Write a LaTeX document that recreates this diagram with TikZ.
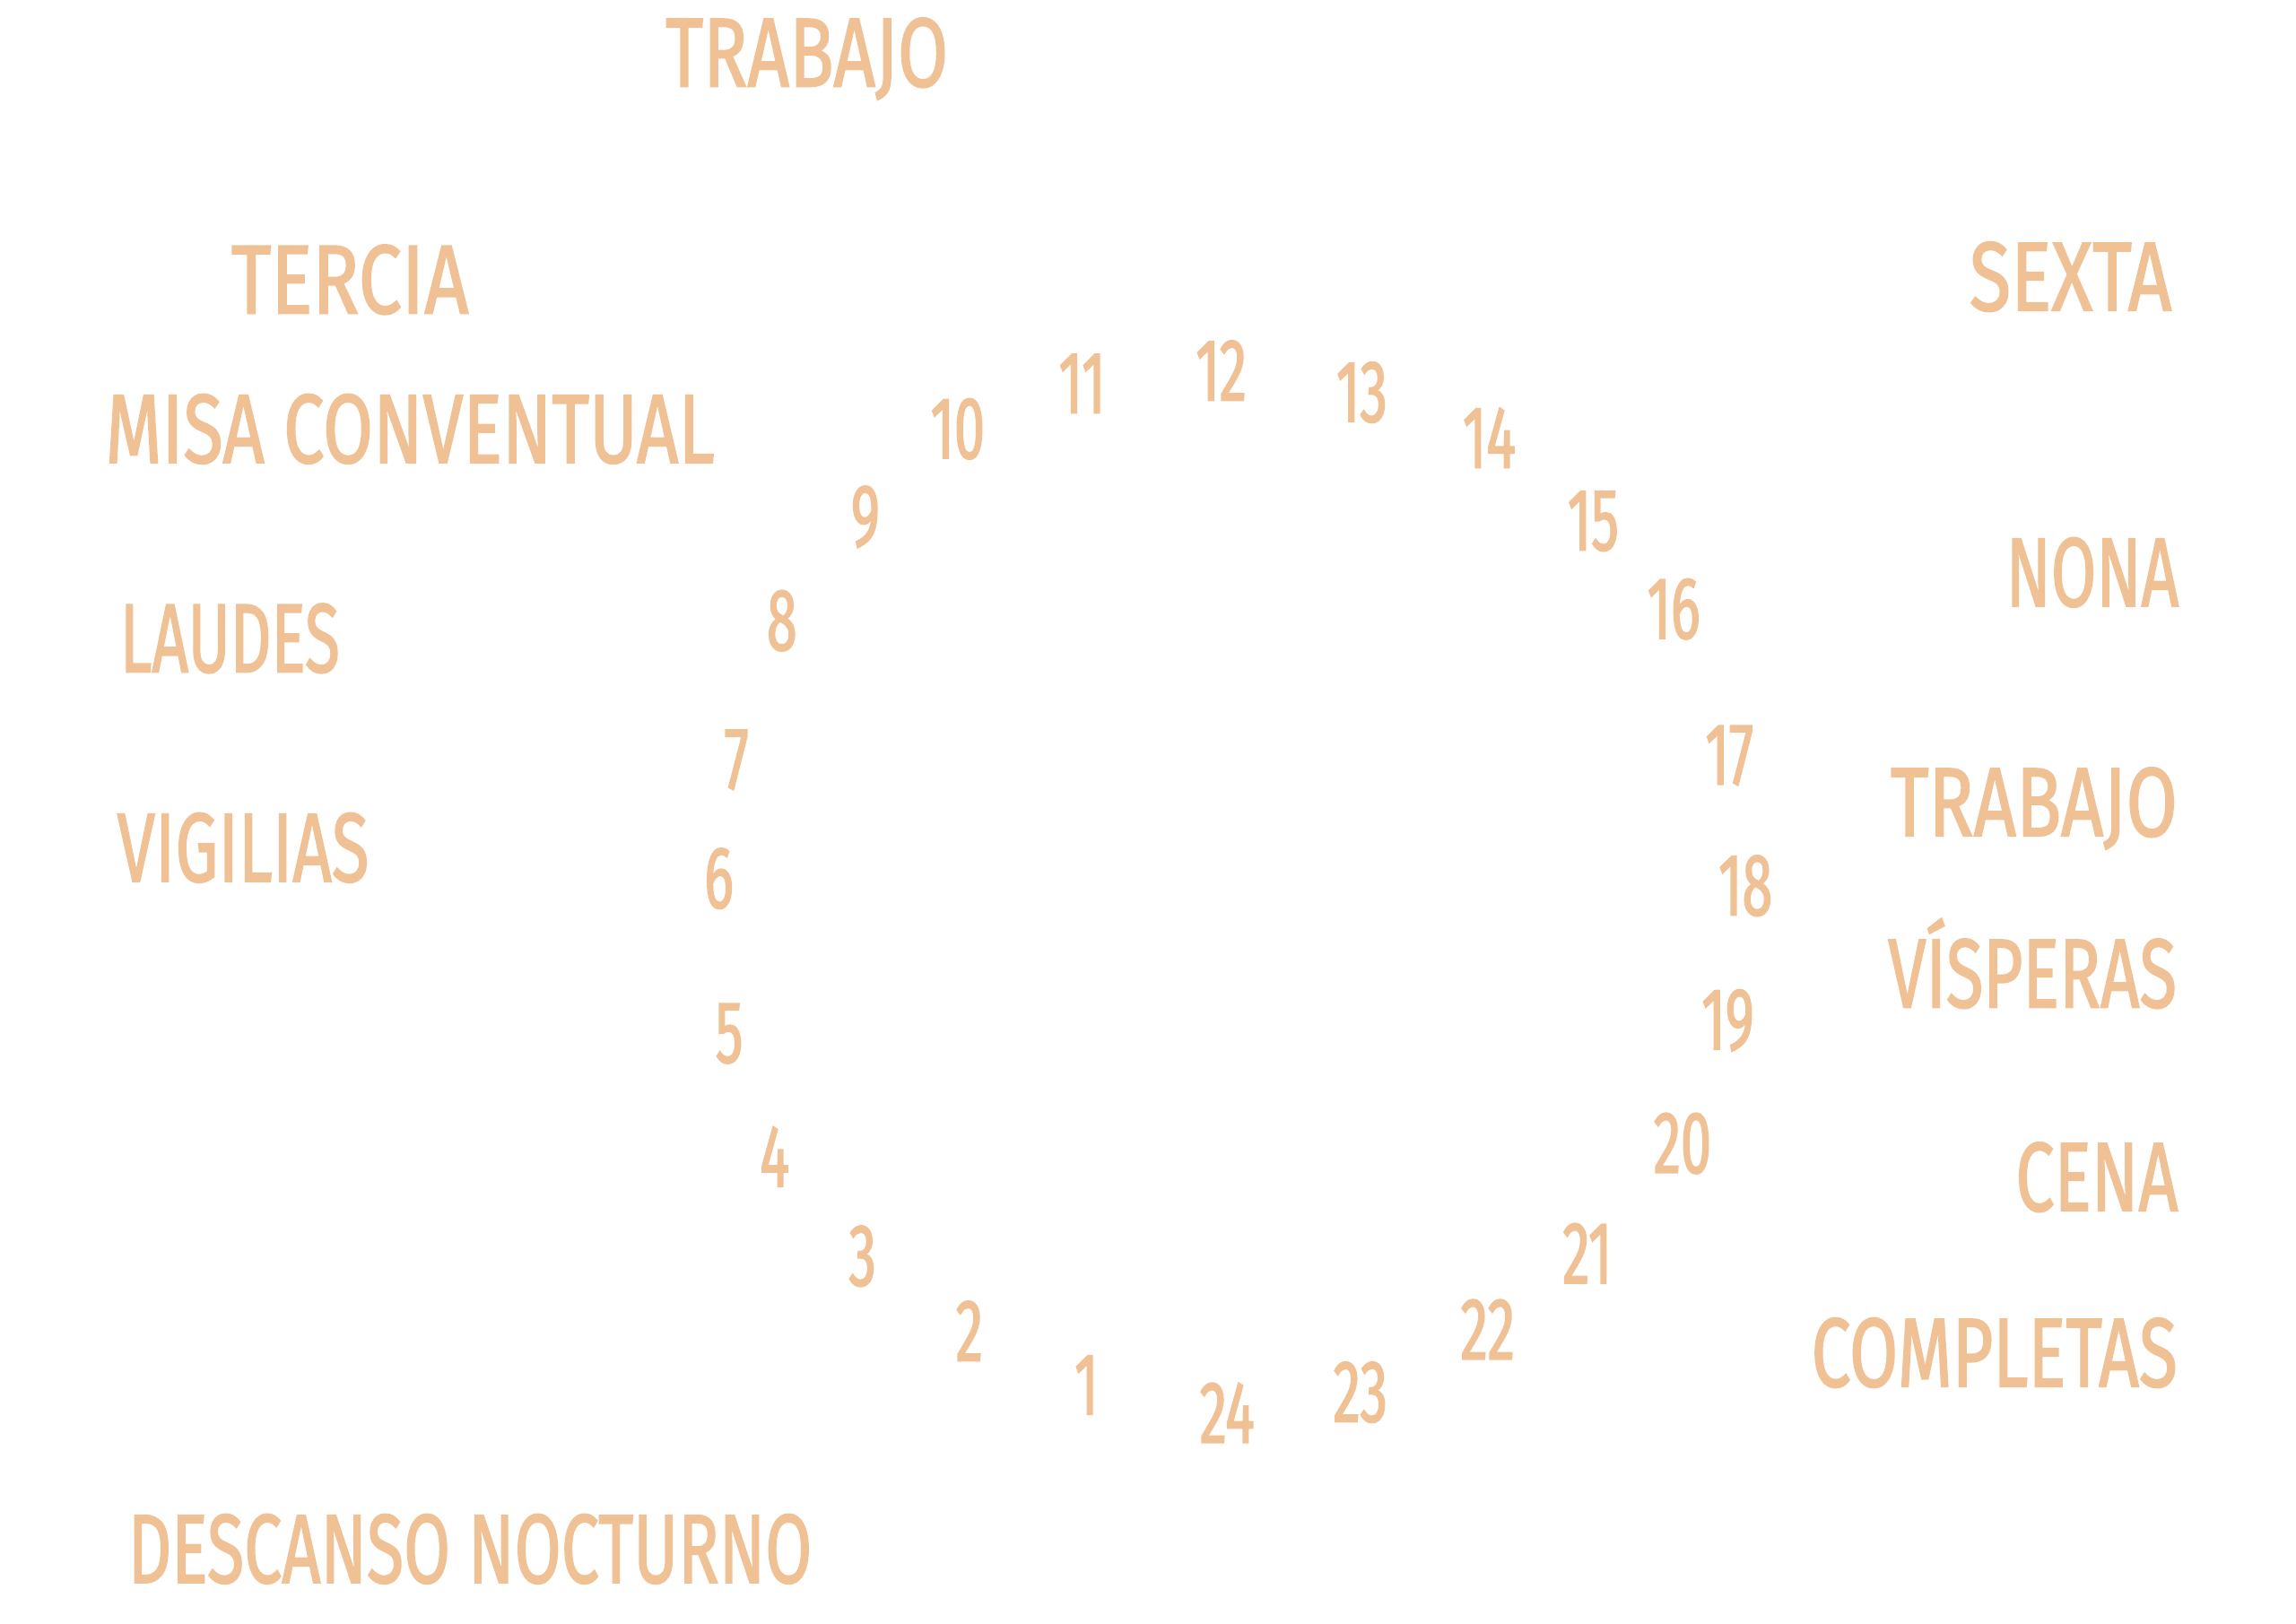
\documentclass[tikz,border=0pt]{standalone}
\usepackage{fontspec}
\usepackage{graphicx}
\newfontfamily\hand[FakeStretch=0.62,FakeBold=1.6]{Fira Sans}
\newfontfamily\handl[FakeBold=1.8]{Fira Sans}
\definecolor{handc}{RGB}{240,193,148}
\newlength\pxu
\setlength\pxu{0.016327cm}
% label: width, text (cap height fixed)
\newcommand\hlbl[2]{\resizebox{#1\pxu}{46\pxu}{\handl\smash{#2}\vphantom{T}}}
\tikzset{
  lbl/.style={inner sep=0pt, text=handc, anchor=center},
  num/.style={inner sep=0pt, text=handc, anchor=center, font=\hand\fontsize{28}{28}\selectfont}
}
\begin{document}
\begin{tikzpicture}[x=0.016327cm,y=-0.016327cm]
\useasboundingbox (0,0) rectangle (1568,1109);
% labels left / top
\node[lbl] (trabajoA) at (551,36) {\hlbl{193}{TRABAJO}};
\node[lbl] (tercia) at (239,191) {\hlbl{162}{TERCIA}};
\node[lbl] (misa) at (280,293) {\hlbl{416}{MISA CONVENTUAL}};
\node[lbl] (laudes) at (157,436) {\hlbl{150}{LAUDES}};
\node[lbl] (vigilias) at (166,579) {\hlbl{172}{VIGILIAS}};
\node[lbl] (descanso) at (321,1058) {\hlbl{467}{DESCANSO NOCTURNO}};
% labels right
\node[lbl] (sexta) at (1414,189) {\hlbl{138}{SEXTA}};
\node[lbl] (nona) at (1429,391) {\hlbl{118}{NONA}};
\node[lbl] (trabajoB) at (1389,548) {\hlbl{196}{TRABAJO}};
\node[lbl] (visperas) at (1388,665) {\hlbl{197}{VÍSPERAS}};
\node[lbl] (cena) at (1432,804) {\hlbl{111}{CENA}};
\node[lbl] (completas) at (1362,924) {\hlbl{250}{COMPLETAS}};
% hours
\foreach \h/\x/\y in {1/742/946, 2/662/909, 3/589/858, 4/529/790, 5/498/706,
  6/491/600, 7/503/519, 8/534/424, 9/591/353, 10/654/293, 11/739/262,
  12/834/253, 13/930/268, 14/1017/299, 15/1088/356, 16/1143/416,
  17/1181/516, 18/1192/605, 19/1180/697, 20/1149/781, 21/1084/856,
  22/1016/908, 23/929/951, 24/838/965}
  \node[num] (n\h) at (\x,\y) {\h};
\end{tikzpicture}
\end{document}
